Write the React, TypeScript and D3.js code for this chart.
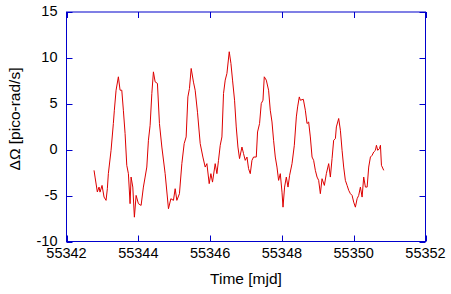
import React, { useEffect, useRef } from 'react'
import * as d3 from 'd3'

// time in mjd
const timeMjd = [
  55342.767, 55342.795, 55342.859, 55342.907, 55342.934, 55342.990, 55343.046, 55343.102, 55343.138, 55343.166,
  55343.241, 55343.305, 55343.333, 55343.381, 55343.445, 55343.492, 55343.540, 55343.584, 55343.632, 55343.679,
  55343.724, 55343.771, 55343.799, 55343.847, 55343.891, 55343.939, 55344.003, 55344.078, 55344.142, 55344.190,
  55344.237, 55344.282, 55344.329, 55344.377, 55344.421, 55344.469, 55344.533, 55344.589, 55344.656, 55344.748,
  55344.840, 55344.907, 55344.979, 55345.027, 55345.074, 55345.146, 55345.213, 55345.278, 55345.333, 55345.381,
  55345.425, 55345.473, 55345.537, 55345.584, 55345.649, 55345.724, 55345.799, 55345.863, 55345.911, 55345.975,
  55346.022, 55346.067, 55346.142, 55346.190, 55346.234, 55346.282, 55346.329, 55346.374, 55346.421, 55346.469,
  55346.533, 55346.580, 55346.625, 55346.681, 55346.728, 55346.775, 55346.820, 55346.887, 55346.932, 55346.979,
  55347.027, 55347.071, 55347.119, 55347.166, 55347.211, 55347.286, 55347.322, 55347.378, 55347.425, 55347.473,
  55347.509, 55347.565, 55347.629, 55347.676, 55347.724, 55347.768, 55347.816, 55347.863, 55347.908, 55347.955,
  55348.003, 55348.031, 55348.075, 55348.123, 55348.170, 55348.215, 55348.282, 55348.346, 55348.402, 55348.438,
  55348.485, 55348.513, 55348.597, 55348.653, 55348.700, 55348.745, 55348.792, 55348.840, 55348.884, 55348.932,
  55348.979, 55349.024, 55349.071, 55349.118, 55349.183, 55349.238, 55349.303, 55349.350, 55349.397, 55349.442,
  55349.490, 55349.517, 55349.582, 55349.629, 55349.676, 55349.721, 55349.768, 55349.816, 55349.861, 55349.908,
  55349.955, 55350.000, 55350.047, 55350.095, 55350.139, 55350.187, 55350.234, 55350.279, 55350.326, 55350.374,
  55350.418, 55350.466, 55350.513, 55350.558, 55350.605, 55350.633, 55350.670, 55350.717, 55350.745, 55350.773,
  55350.837,
]

// delta omega in pico-rad/s
const deltaOmega = [
  -2.25, -2.98, -4.60, -4.07, -4.62, -3.89, -5.16, -5.52, -4.25, -2.61,
  -0.07, 2.85, 4.30, 6.48, 7.94, 6.48, 6.48, 4.30, 1.76, -1.70,
  -2.61, -5.88, -2.98, -4.07, -7.35, -4.98, -5.88, -6.07, -4.07, -2.98,
  -1.89, 1.03, 2.66, 6.12, 8.48, 7.39, 7.22, 2.85, 0.29, -2.61,
  -6.43, -5.34, -5.52, -4.25, -5.52, -4.79, -1.52, 0.67, 1.39, 5.75,
  6.67, 8.85, 7.36, 6.48, 4.08, 0.67, -0.80, -1.89, -1.52, -3.70,
  -2.61, -3.53, -1.52, -2.61, -1.16, 0.48, 1.39, 6.12, 7.58, 8.31,
  10.67, 9.40, 7.58, 5.39, 2.48, 0.29, -0.97, 0.29, -0.43, -1.16,
  -0.80, -2.06, -2.61, -1.16, -0.80, -0.80, 1.93, 2.85, 5.03, 5.39,
  7.94, 7.58, 6.48, 4.30, 3.02, 1.03, -0.80, -1.89, -3.34, -2.61,
  -4.62, -6.26, -4.07, -2.98, -4.07, -2.79, -1.52, 0.48, 3.57, 4.66,
  5.75, 5.39, 5.49, 4.30, 2.85, 3.02, 1.39, -0.80, -1.16, -2.25,
  -2.98, -3.34, -4.79, -3.16, -3.89, -2.61, -1.52, -2.98, -0.97, 1.03,
  1.21, 2.48, 3.40, 2.12, -0.07, -1.89, -3.34, -3.89, -4.43, -4.79,
  -4.98, -5.71, -6.26, -5.34, -4.98, -4.07, -5.16, -2.98, -4.07, -4.07,
  -1.89, -0.80, -0.61, -0.25, -0.07, 0.48, -0.07, 0.12, 0.48, -1.70,
  -2.25,
]

const xTicks = [55342, 55344, 55346, 55348, 55350, 55352]
const yTicks = [-10, -5, 0, 5, 10, 15]

function App() {
  const svgRef = useRef<SVGSVGElement>(null)

  useEffect(() => {
    const w = 451
    const h = 294
    const left = 66.5
    const right = 425.5
    const top = 12
    const bottom = 241.5
    const font = '"Liberation Sans", Arial, sans-serif'
    const blue = '#0000cc'

    const svg = d3.select(svgRef.current)
      .attr('width', w)
      .attr('height', h)
    svg.selectAll('*').remove()

    const x = d3.scaleLinear().domain([55342, 55352]).range([left, right])
    const y = d3.scaleLinear().domain([-10, 15]).range([bottom, top])

    // data line
    const line = d3.line<number>()
      .x((d, i) => x(timeMjd[i]))
      .y(d => y(d))

    svg.append('path')
      .datum(deltaOmega)
      .attr('d', line)
      .attr('fill', 'none')
      .attr('stroke', '#dd0000')
      .attr('stroke-width', 1)
      .attr('stroke-linejoin', 'round')

    // frame, ticks on all four sides pointing in
    const axes = svg.append('g').attr('stroke', blue).attr('stroke-width', 1)
    axes.append('rect')
      .attr('x', left).attr('y', top)
      .attr('width', right - left).attr('height', bottom - top)
      .attr('fill', 'none')

    xTicks.forEach(t => {
      const px = Math.round(x(t)) + 0.5
      axes.append('line').attr('x1', px).attr('x2', px).attr('y1', bottom).attr('y2', bottom - 6)
      axes.append('line').attr('x1', px).attr('x2', px).attr('y1', top).attr('y2', top + 6)
    })
    yTicks.forEach(t => {
      const py = Math.round(y(t)) + 0.5
      axes.append('line').attr('x1', left).attr('x2', left + 6).attr('y1', py).attr('y2', py)
      axes.append('line').attr('x1', right).attr('x2', right - 6).attr('y1', py).attr('y2', py)
    })

    // tick labels
    svg.append('g').selectAll('text')
      .data(xTicks)
      .join('text')
      .attr('x', d => x(d))
      .attr('y', 257.5)
      .attr('text-anchor', 'middle')
      .attr('font-family', font)
      .attr('font-size', 14.5)
      .text(d => d)

    svg.append('g').selectAll('text')
      .data(yTicks)
      .join('text')
      .attr('x', 57.5)
      .attr('y', d => y(d) + 4)
      .attr('text-anchor', 'end')
      .attr('font-family', font)
      .attr('font-size', 14.5)
      .text(d => d)

    // axis titles
    svg.append('text')
      .attr('x', 246)
      .attr('y', 284)
      .attr('text-anchor', 'middle')
      .attr('font-family', font)
      .attr('font-size', 15.5)
      .text('Time [mjd]')

    svg.append('text')
      .attr('transform', 'translate(20,119) rotate(-90)')
      .attr('text-anchor', 'middle')
      .attr('font-family', font)
      .attr('font-size', 15.5)
      .text('ΔΩ [pico-rad/s]')
  }, [])

  return (
    <svg ref={svgRef} style={{ position: 'absolute', left: 0, top: 0 }} />
  )
}

export default App
